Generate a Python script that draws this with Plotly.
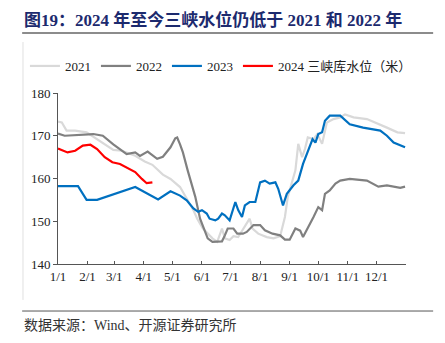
import plotly.graph_objects as go

# ---- data (day of year, water level in metres) ----
days_2021 = [0, 4, 9, 18, 30, 41, 51, 58, 67, 81, 91, 99, 110, 118, 128, 135, 142, 146, 152,
             162, 167, 172, 175, 180, 184, 189, 198, 201, 204, 210, 219, 226, 233, 238, 241,
             246, 249, 252, 256, 259, 262, 268, 272, 277, 282, 289, 296, 301, 310,
             324, 333, 345, 356, 364]
lvl_2021 = [173.3, 173.1, 171.2, 171.2, 170.8, 169.2, 167.7, 166.7, 166.5, 165.3, 164.0, 163.2,
            160.9, 159.9, 158.0, 155.2, 152.6, 150.6, 148.3, 146.0, 145.2, 148.3, 146.0, 145.6,
            146.5, 146.3, 149.5, 150.6, 148.3, 147.1, 146.3, 146.0, 146.5, 151.0, 155.7,
            159.5, 161.9, 168.1, 165.0, 166.9, 169.6, 169.2, 170.4, 168.1, 173.1, 173.9, 174.3,
            175.0, 174.3, 173.9, 173.1, 171.9, 170.8, 170.6]

days_2022 = [0, 7, 37, 47, 58, 72, 81, 86, 94, 104, 110, 118, 123, 125, 128, 131, 136, 144, 149,
             154, 157, 162, 172, 175, 178, 184, 188, 194, 198, 205, 212, 217, 225, 233, 238, 243,
             249, 254, 257, 268, 273, 277, 280, 285, 291, 296, 306, 324, 336, 345, 359, 364]
lvl_2022 = [170.5, 170.0, 170.4, 170.0, 168.0, 165.7, 166.1, 165.3, 166.3, 164.6, 165.1, 167.3,
            169.4, 169.6, 168.0, 166.1, 161.9, 155.7, 150.6, 147.5, 146.0, 145.2, 145.3, 146.7,
            148.3, 148.3, 147.1, 147.1, 147.5, 149.1, 149.1, 147.9, 147.1, 146.7, 145.7, 145.7,
            148.3, 147.8, 146.3, 151.0, 153.3, 152.6, 156.4, 157.2, 158.8, 159.5, 159.9, 159.5,
            158.1, 158.4, 157.8, 158.1]

days_2023 = [0, 21, 30, 41, 81, 105, 118, 128, 135, 142, 147, 151, 156, 159, 165, 168, 172, 175,
             180, 186, 189, 193, 196, 201, 207, 212, 217, 222, 228, 231, 236, 240, 247, 252, 257,
             262, 267, 270, 273, 277, 280, 285, 296, 306, 320, 338, 345, 352, 359, 364]
lvl_2023 = [158.2, 158.2, 155.0, 155.0, 158.0, 155.1, 157.0, 156.0, 154.9, 153.0, 152.2, 152.6,
            151.8, 150.6, 150.2, 150.6, 151.8, 151.4, 150.2, 154.5, 152.6, 151.0, 153.7, 154.5,
            154.5, 159.1, 159.5, 158.8, 159.1, 157.6, 153.7, 156.4, 158.4, 159.5, 163.4, 166.1,
            169.2, 168.4, 170.4, 170.8, 173.5, 174.7, 174.7, 172.7, 171.9, 171.2, 170.0, 168.4,
            167.7, 167.3]

days_2024 = [0, 10, 18, 26, 34, 41, 49, 57, 65, 72, 81, 88, 93, 99]
lvl_2024 = [167.0, 166.1, 166.5, 167.7, 167.9, 166.9, 165.0, 163.8, 163.4, 162.6, 161.5, 159.9,
            158.9, 159.1]

series_names = ["2021", "2022", "2023", "2024 三峡库水位（米）"]
series_colors = ["#d9d9d9", "#808080", "#0070c0", "#ff0000"]

month_ticks = [0, 31, 59, 90, 120, 151, 181, 212, 243, 273, 304, 334, 365]
month_labels = ["1/1", "2/1", "3/1", "4/1", "5/1", "6/1", "7/1", "8/1", "9/1", "10/1", "11/1", "12/1", ""]
y_ticks = [140, 150, 160, 170, 180]

SERIF = "Liberation Serif, Noto Sans CJK SC, serif"

fig = go.Figure()
for d, v, n, c in zip([days_2021, days_2022, days_2023, days_2024],
                      [lvl_2021, lvl_2022, lvl_2023, lvl_2024], series_names, series_colors):
    fig.add_trace(go.Scatter(x=d, y=v, mode="lines", name=n,
                             line=dict(color=c, width=2.2)))

fig.update_layout(
    width=445, height=343,
    margin=dict(l=58, r=39, t=93, b=79),
    paper_bgcolor="white", plot_bgcolor="white",
    font=dict(family=SERIF, size=13, color="#222"),
    showlegend=True,
    legend=dict(orientation="h", x=-0.095, xanchor="left", y=1.158, yanchor="middle",
                font=dict(size=13, family=SERIF, color="#222"),
                bgcolor="rgba(0,0,0,0)", itemclick=False),
    xaxis=dict(range=[0, 365], tickvals=month_ticks, ticktext=month_labels,
               showgrid=False, zeroline=False, showline=True, linecolor="#555", linewidth=1,
               ticks="inside", ticklen=3, tickcolor="#555",
               tickfont=dict(family=SERIF, size=13, color="#222")),
    yaxis=dict(range=[140, 180], tickvals=y_ticks, showgrid=False, zeroline=False,
               showline=True, linecolor="#555", linewidth=1,
               ticks="outside", ticklen=4, tickcolor="#555",
               tickfont=dict(family=SERIF, size=13, color="#222")),
    annotations=[
        dict(text="<b>图19：2024 年至今三峡水位仍低于 2021 和 2022 年</b>",
             xref="paper", yref="paper", x=-0.103, y=1.427, xanchor="left", yanchor="middle",
             showarrow=False, font=dict(family=SERIF, size=17, color="#1c2a6e")),
        dict(text="数据来源：Wind、开源证券研究所",
             xref="paper", yref="paper", x=-0.103, y=-0.362, xanchor="left", yanchor="middle",
             showarrow=False, font=dict(family=SERIF, size=14, color="#333")),
    ],
    shapes=[
        dict(type="line", xref="paper", yref="paper", x0=-0.103, x1=1.078, y0=1.351, y1=1.351,
             line=dict(color="#8c8c8c", width=2)),
        dict(type="line", xref="paper", yref="paper", x0=-0.1006, x1=-0.1006, y0=1.298, y1=-0.21,
             line=dict(color="#e0e0e0", width=1)),
        dict(type="line", xref="paper", yref="paper", x0=-0.103, x1=1.078, y0=-0.275, y1=-0.275,
             line=dict(color="#555", width=1)),
    ],
)

fig.write_html("out.html")
